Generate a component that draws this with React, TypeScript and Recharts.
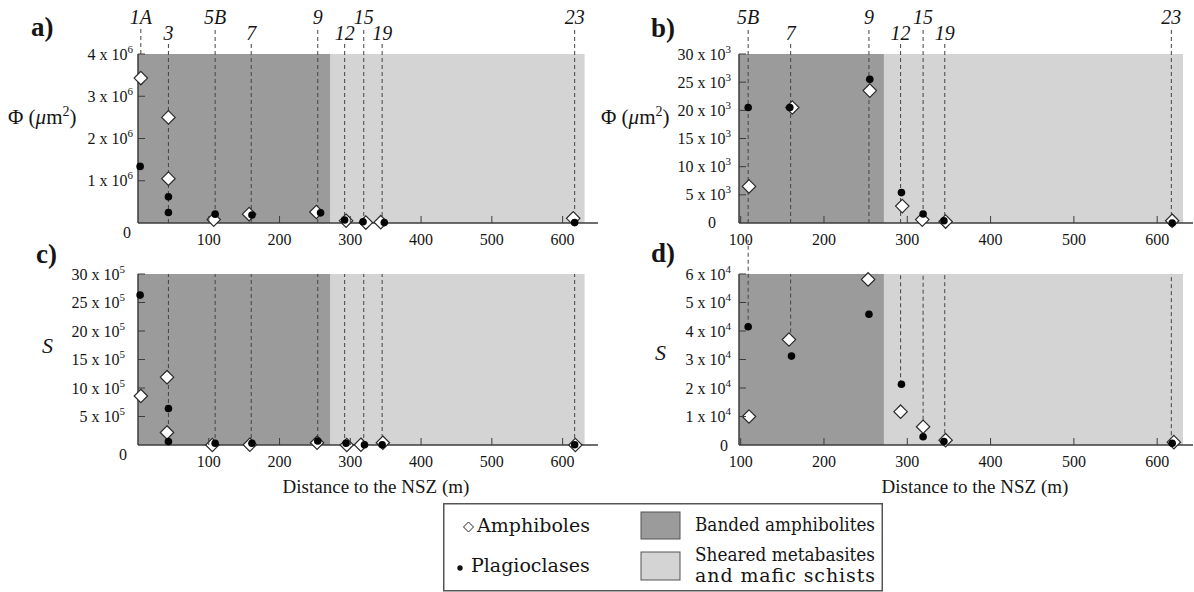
import React from 'react';
import { ScatterChart, Scatter, XAxis, YAxis, ReferenceArea, ReferenceLine, ReferenceDot } from 'recharts';

// sample stations along the profile (m from the NSZ)
const sampleNames = ['1A', '3', '5B', '7', '9', '12', '15', '19', '23'];
const samplePositions = [4, 43, 109, 160, 254, 292, 319, 345, 617];

const bandedRange = [0, 272];
const shearedRange = [272, 631];

const xTicks = [100, 200, 300, 400, 500, 600];
const phiTicksAll = [0, 1e6, 2e6, 3e6, 4e6];
const phiTicksZoom = [0, 5e3, 10e3, 15e3, 20e3, 25e3, 30e3];
const sTicksAll = [0, 5e5, 10e5, 15e5, 20e5, 25e5, 30e5];
const sTicksZoom = [0, 1e4, 2e4, 3e4, 4e4, 5e4, 6e4];

// a) Φ, all samples
const phiAmphAll = [[4, 3.43e6], [43, 2.5e6], [43, 1.05e6], [107, 0.08e6], [157, 0.21e6], [252, 0.26e6], [294, 0.055e6], [322, 0.01e6], [343, 0.02e6], [615, 0.11e6]];
const phiPlagAll = [[3, 1.34e6], [43, 0.62e6], [43, 0.25e6], [109, 0.21e6], [161, 0.19e6], [258, 0.24e6], [292, 0.07e6], [318, 0.03e6], [348, 0.01e6], [617, 0.01e6]];
// b) Φ, from 5B
const phiAmphZoom = [[110, 6.5e3], [162, 20.5e3], [255, 23.5e3], [294, 3.0e3], [318, 0.6e3], [346, 0.25e3], [618, 0.4e3]];
const phiPlagZoom = [[109, 20.5e3], [159, 20.5e3], [255, 25.5e3], [293, 5.4e3], [319, 1.6e3], [344, 0.4e3], [618, 0]];
// c) S, all samples
const sAmphAll = [[4, 8.6e5], [41, 11.9e5], [41, 2.2e5], [105, 0], [158, 0.05e5], [253, 0.4e5], [295, 0], [315, 0.05e5], [346, 0.4e5], [618, 0]];
const sPlagAll = [[3, 26.3e5], [43, 6.4e5], [43, 0.6e5], [109, 0.3e5], [161, 0.3e5], [254, 0.7e5], [294, 0.3e5], [320, 0.05e5], [345, 0.05e5], [617, 0.05e5]];
// d) S, from 5B
const sAmphZoom = [[110, 1.0e4], [158, 3.7e4], [253, 5.81e4], [292, 1.17e4], [319, 0.64e4], [346, 0.17e4], [620, 0.1e4]];
const sPlagZoom = [[109, 4.15e4], [161, 3.12e4], [254, 4.59e4], [293, 2.13e4], [319, 0.29e4], [344, 0.12e4], [618, 0.06e4]];

const SERIF = '"Liberation Serif", "Times New Roman", serif';
const LEGEND_FONT = '"DejaVu Serif", serif';
const AXIS = '#3c3c3c';
const DARK = '#9b9b9b';
const LIGHT = '#d4d4d4';
const DASH = '#444';
const INK = '#151515';

type Pt = { x: number; y: number };
const toPts = (rows: number[][]): Pt[] => rows.map(([x, y]) => ({ x, y }));

const Diamond = (props: any) => {
  const { cx, cy } = props;
  if (cx == null || cy == null) return null;
  const r = 6.7;
  return (
    <polygon
      points={`${cx},${cy - r} ${cx + r},${cy} ${cx},${cy + r} ${cx - r},${cy}`}
      fill="#fff"
      stroke="#2a2a2a"
      strokeWidth={1.2}
    />
  );
};

const Dot = (props: any) => {
  const { cx, cy } = props;
  if (cx == null || cy == null) return null;
  return <circle cx={cx} cy={cy} r={3.8} fill="#050505" />;
};

const renderXTick = (p: any) => {
  const { x, y, payload } = p;
  return (
    <g>
      <line x1={x} x2={x} y1={y} y2={y - 7} stroke={AXIS} strokeWidth={1} />
      <text x={x} y={y + 22} textAnchor="middle" fontFamily={SERIF} fontSize={16} fill={INK}>
        {payload.value}
      </text>
    </g>
  );
};

const makeYTick = (exp: number, gap: number, zeroDx: number, zeroDy: number) => (p: any) => {
  const { x, y, payload } = p;
  const v = payload.value;
  if (v === 0) {
    return (
      <text x={x - gap + zeroDx} y={y + 5 + zeroDy} textAnchor="end" fontFamily={SERIF} fontSize={16} fill={INK}>
        0
      </text>
    );
  }
  const mant = Math.round(v / Math.pow(10, exp));
  return (
    <g>
      <line x1={x} x2={x + 7} y1={y} y2={y} stroke={AXIS} strokeWidth={1} />
      <text x={x - gap} y={y + 5.5} textAnchor="end" fontFamily={SERIF} fontSize={16} fill={INK}>
        <tspan>{mant} x 10</tspan>
        <tspan dy={-7} fontSize={11}>{exp}</tspan>
      </text>
    </g>
  );
};

const sampleLabel = (name: string) => (p: any) => {
  const vb = p.viewBox || { x: p.x, y: p.y, width: 0, height: 0 };
  const cx = vb.x + (vb.width || 0) / 2;
  const cy = vb.y + (vb.height || 0) / 2;
  return (
    <text x={cx} y={cy} textAnchor="middle" fontFamily={SERIF} fontStyle="italic" fontSize={20} fill={INK}>
      {name}
    </text>
  );
};

type Seg = { x: number; y1: number; y2: number };
type Lab = { x: number; y: number; name: string };

const topOf = (i: number) => (i % 2 ? 1.06 : 1.16);
const labelOf = (i: number) => (i % 2 ? 1.085 : 1.18);
const highestAt = (pts: Pt[], x: number) =>
  Math.max(...pts.filter((p) => Math.abs(p.x - x) < 6).map((p) => p.y));

type PanelProps = {
  left: number;
  top: number;
  width: number;
  margin: { top: number; left: number; right: number; bottom: number };
  xDomain: [number, number];
  yMax: number;
  yTicks: number[];
  exp: number;
  gap: number;
  zeroDx: number;
  zeroDy: number;
  amph: Pt[];
  plag: Pt[];
  segs: Seg[];
  labels: Lab[];
};

const Panel = ({ left, top, width, margin, xDomain, yMax, yTicks, exp, gap, zeroDx, zeroDy, amph, plag, segs, labels }: PanelProps) => (
  <div style={{ position: 'absolute', left, top }}>
    <ScatterChart width={width} height={260} margin={margin}>
      <ReferenceArea x1={bandedRange[0]} x2={bandedRange[1]} y1={0} y2={yMax} fill={DARK} fillOpacity={1} stroke="none" ifOverflow="hidden" />
      <ReferenceArea x1={shearedRange[0]} x2={shearedRange[1]} y1={0} y2={yMax} fill={LIGHT} fillOpacity={1} stroke="none" ifOverflow="hidden" />
      <XAxis
        type="number"
        dataKey="x"
        domain={xDomain}
        ticks={xTicks}
        interval={0}
        tickSize={0}
        tickMargin={0}
        tickLine={false}
        axisLine={{ stroke: AXIS, strokeWidth: 1.5 }}
        tick={renderXTick}
        height={30}
      />
      <YAxis
        type="number"
        dataKey="y"
        domain={[0, yMax]}
        ticks={yTicks}
        interval={0}
        tickSize={0}
        tickMargin={0}
        tickLine={false}
        axisLine={{ stroke: AXIS, strokeWidth: 1.5 }}
        tick={makeYTick(exp, gap, zeroDx, zeroDy)}
        width={100}
      />
      {segs.map((s, i) => (
        <ReferenceLine
          key={'s' + i}
          segment={[{ x: s.x, y: s.y1 * yMax }, { x: s.x, y: s.y2 * yMax }]}
          stroke={DASH}
          strokeWidth={1}
          strokeDasharray="4 3"
          ifOverflow="visible"
        />
      ))}
      {labels.map((l, i) => (
        <ReferenceDot
          key={'l' + i}
          x={l.x}
          y={l.y * yMax}
          r={0}
          fill="none"
          stroke="none"
          ifOverflow="visible"
          label={sampleLabel(l.name)}
        />
      ))}
      <Scatter data={amph} shape={(p: any) => <Diamond {...p} />} isAnimationActive={false} />
      <Scatter data={plag} shape={(p: any) => <Dot {...p} />} isAnimationActive={false} />
    </ScatterChart>
  </div>
);

export default function App() {
  const aAmph = toPts(phiAmphAll);
  const aPlag = toPts(phiPlagAll);
  const bAmph = toPts(phiAmphZoom);
  const bPlag = toPts(phiPlagZoom);
  const cAmph = toPts(sAmphAll);
  const cPlag = toPts(sPlagAll);
  const dAmph = toPts(sAmphZoom);
  const dPlag = toPts(sPlagZoom);

  const idx = sampleNames.map((_, i) => i);
  const fromFiveB = idx.slice(2);

  const segA: Seg[] = idx.map((i) => ({ x: samplePositions[i], y1: i === 0 ? 1 : 0, y2: topOf(i) }));
  const segB: Seg[] = fromFiveB.map((i) => ({ x: samplePositions[i], y1: 0, y2: topOf(i) }));
  const segC: Seg[] = idx.slice(1).map((i) => ({ x: samplePositions[i], y1: 0, y2: 1 }));
  const segD: Seg[] = fromFiveB.map((i) => ({
    x: samplePositions[i],
    y1: highestAt([...dAmph, ...dPlag], samplePositions[i]) / 6e4,
    y2: i === 2 ? 1.2 : 1,
  }));
  const labA: Lab[] = idx.map((i) => ({ x: samplePositions[i], y: labelOf(i), name: sampleNames[i] }));
  const labB: Lab[] = fromFiveB.map((i) => ({ x: samplePositions[i], y: labelOf(i), name: sampleNames[i] }));

  const marginLeft = { top: 54, left: 38, right: 2, bottom: 7 };
  const marginRight = { top: 54, left: 39, right: 1, bottom: 7 };
  const marginLeftLow = { top: 44, left: 38, right: 2, bottom: 15 };
  const marginRightLow = { top: 44, left: 39, right: 1, bottom: 15 };

  return (
    <div style={{ position: 'absolute', left: 0, top: 0, width: 1194, height: 592, background: '#fff', overflow: 'hidden' }}>
      <Panel left={0} top={0} width={600} margin={marginLeft} xDomain={[0, 650]} yMax={4e6} yTicks={phiTicksAll} exp={6} gap={5} zeroDx={-2} zeroDy={10} amph={aAmph} plag={aPlag} segs={segA} labels={labA} />
      <Panel left={600} top={0} width={594} margin={marginRight} xDomain={[98, 643]} yMax={30e3} yTicks={phiTicksZoom} exp={3} gap={8} zeroDx={-15} zeroDy={0} amph={bAmph} plag={bPlag} segs={segB} labels={labB} />
      <Panel left={0} top={230} width={600} margin={marginLeftLow} xDomain={[0, 650]} yMax={30e5} yTicks={sTicksAll} exp={5} gap={13} zeroDx={2} zeroDy={10} amph={cAmph} plag={cPlag} segs={segC} labels={[]} />
      <Panel left={600} top={230} width={594} margin={marginRightLow} xDomain={[98, 643]} yMax={6e4} yTicks={sTicksZoom} exp={4} gap={8} zeroDx={-3} zeroDy={1} amph={dAmph} plag={dPlag} segs={segD} labels={[]} />

      <svg width={1194} height={592} style={{ position: 'absolute', left: 0, top: 0, pointerEvents: 'none' }}>
        <g fontFamily={SERIF} fill={INK}>
          <text x={31} y={36} fontSize={27} fontWeight="bold">a)</text>
          <text x={651} y={37} fontSize={27} fontWeight="bold">b)</text>
          <text x={36} y={263} fontSize={27} fontWeight="bold">c)</text>
          <text x={651} y={262} fontSize={27} fontWeight="bold">d)</text>

          <text x={8} y={124} fontSize={21}>
            Φ (<tspan fontStyle="italic">μ</tspan>m<tspan dy={-8} fontSize={14}>2</tspan><tspan dy={8}>)</tspan>
          </text>
          <text x={601} y={124} fontSize={21}>
            Φ (<tspan fontStyle="italic">μ</tspan>m<tspan dy={-8} fontSize={14}>2</tspan><tspan dy={8}>)</tspan>
          </text>
          <text x={42} y={353} fontSize={22} fontStyle="italic">S</text>
          <text x={655} y={360} fontSize={22} fontStyle="italic">S</text>

          <text x={376} y={493} fontSize={19} textAnchor="middle">Distance to the NSZ (m)</text>
          <text x={975} y={493} fontSize={19} textAnchor="middle">Distance to the NSZ (m)</text>
        </g>

        <g transform="translate(443,503)">
          <rect x={0.75} y={0.75} width={438.5} height={87} fill="#fff" stroke="#555" strokeWidth={1.5} />
          <polygon points="25.5,19 30.5,24 25.5,29 20.5,24" fill="#fff" stroke="#222" strokeWidth={1} />
          <circle cx={17} cy={65} r={2.7} fill="#111" />
          <rect x={198} y={9} width={39} height={27} fill={DARK} stroke="#555" strokeWidth={1} />
          <rect x={198} y={49} width={39} height={28} fill={LIGHT} stroke="#555" strokeWidth={1} />
          <g fontFamily={LEGEND_FONT} fontSize={19} fill={INK}>
            <text x={34} y={29}>Amphiboles</text>
            <text x={28} y={69}>Plagioclases</text>
            <text x={252} y={28} textLength={180} lengthAdjust="spacingAndGlyphs">Banded amphibolites</text>
            <text x={252} y={58} textLength={180} lengthAdjust="spacingAndGlyphs">Sheared metabasites</text>
            <text x={252} y={79} textLength={180} lengthAdjust="spacing">and mafic schists</text>
          </g>
        </g>
      </svg>
    </div>
  );
}
